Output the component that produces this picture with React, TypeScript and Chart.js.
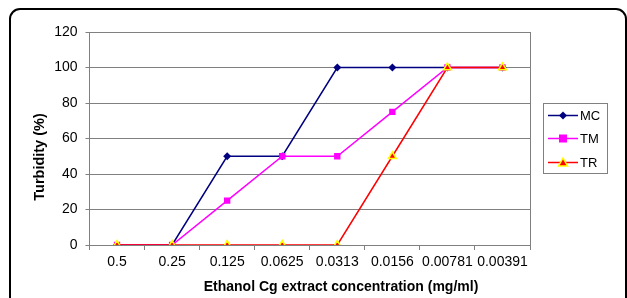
import React, { useEffect, useRef } from "react";
import { Chart, registerables } from "chart.js";

Chart.register(...registerables);

const categories = ["0.5", "0.25", "0.125", "0.0625", "0.0313", "0.0156", "0.00781", "0.00391"];
const seriesNames = ["MC", "TM", "TR"];
const mcValues = [0, 0, 50, 50, 100, 100, 100, 100];
const tmValues = [0, 0, 25, 50, 50, 75, 100, 100];
const trValues = [0, 0, 0, 0, 0, 50, 100, 100];
const yTicks = [0, 20, 40, 60, 80, 100, 120];
const xTitle = "Ethanol Cg extract concentration (mg/ml)";
const yTitle = "Turbidity (%)";

const FONT = "Arial, 'Liberation Sans', sans-serif";

function drawMarker(ctx: CanvasRenderingContext2D, kind: string, x: number, y: number) {
  ctx.save();
  if (kind === "MC") {
    ctx.fillStyle = "#000080";
    ctx.beginPath();
    ctx.moveTo(x, y - 4);
    ctx.lineTo(x + 4, y);
    ctx.lineTo(x, y + 4);
    ctx.lineTo(x - 4, y);
    ctx.closePath();
    ctx.fill();
  } else if (kind === "TM") {
    ctx.fillStyle = "#FF00FF";
    ctx.fillRect(x - 4, y - 4, 8, 8);
  } else {
    ctx.fillStyle = "#FF0000";
    ctx.strokeStyle = "#FFFF00";
    ctx.lineWidth = 1.5;
    ctx.beginPath();
    ctx.moveTo(x, y - 4.5);
    ctx.lineTo(x + 4.5, y + 3.5);
    ctx.lineTo(x - 4.5, y + 3.5);
    ctx.closePath();
    ctx.fill();
    ctx.stroke();
  }
  ctx.restore();
}

const decorPlugin = {
  id: "decor",
  beforeDraw(chart: any) {
    const ctx = chart.ctx as CanvasRenderingContext2D;
    ctx.save();
    ctx.fillStyle = "#ffffff";
    ctx.fillRect(0, 0, chart.width, chart.height);
    ctx.strokeStyle = "#000000";
    ctx.lineWidth = 2;
    ctx.beginPath();
    (ctx as any).roundRect(10, 9, 616, 330, 10);
    ctx.stroke();
    ctx.restore();
  },
  afterDraw(chart: any) {
    const ctx = chart.ctx as CanvasRenderingContext2D;
    const a = chart.chartArea;
    ctx.save();
    // plot area right border
    ctx.strokeStyle = "#808080";
    ctx.lineWidth = 1;
    ctx.beginPath();
    ctx.moveTo(Math.round(a.right) + 0.5, a.top);
    ctx.lineTo(Math.round(a.right) + 0.5, a.bottom);
    ctx.stroke();

    // axis titles
    ctx.fillStyle = "#000000";
    ctx.textAlign = "center";
    ctx.textBaseline = "middle";
    ctx.font = `bold 14px ${FONT}`;
    ctx.fillText(xTitle, 341, 287);
    ctx.save();
    ctx.translate(40, 157);
    ctx.rotate(-Math.PI / 2);
    ctx.font = `bold 14.5px ${FONT}`;
    ctx.fillText(yTitle, 0, 0);
    ctx.restore();

    // legend
    const lx = 543, ly = 103, lw = 64, lh = 70;
    ctx.fillStyle = "#ffffff";
    ctx.fillRect(lx, ly, lw, lh);
    ctx.strokeStyle = "#808080";
    ctx.lineWidth = 1;
    ctx.strokeRect(lx + 0.5, ly + 0.5, lw, lh);
    const colors = ["#000080", "#FF00FF", "#FF0000"];
    const rows = [115.5, 138.5, 162.5];
    seriesNames.forEach((name, i) => {
      const y = rows[i];
      ctx.strokeStyle = colors[i];
      ctx.lineWidth = 1.5;
      ctx.beginPath();
      ctx.moveTo(548, y);
      ctx.lineTo(578, y);
      ctx.stroke();
      drawMarker(ctx, name, 563, y);
      ctx.fillStyle = "#000000";
      ctx.font = `13px ${FONT}`;
      ctx.textAlign = "left";
      ctx.textBaseline = "middle";
      ctx.fillText(name, 580, y + 0.5);
    });
    ctx.restore();
  },
};

export default function App() {
  const ref = useRef<HTMLCanvasElement | null>(null);

  useEffect(() => {
    if (!ref.current) return;
    const chart = new Chart(ref.current, {
      type: "line",
      data: {
        labels: categories,
        datasets: [
          {
            label: seriesNames[0],
            data: mcValues,
            borderColor: "#000080",
            backgroundColor: "#000080",
            borderWidth: 1.5,
            pointStyle: "rectRot",
            pointRadius: 4,
            pointBorderWidth: 0,
            pointBackgroundColor: "#000080",
            order: 3,
          },
          {
            label: seriesNames[1],
            data: tmValues,
            borderColor: "#FF00FF",
            backgroundColor: "#FF00FF",
            borderWidth: 1.5,
            pointStyle: "rect",
            pointRadius: 4.5,
            pointBorderWidth: 0,
            pointBackgroundColor: "#FF00FF",
            order: 2,
          },
          {
            label: seriesNames[2],
            data: trValues,
            borderColor: "#FF0000",
            backgroundColor: "#FF0000",
            borderWidth: 1.5,
            pointStyle: "triangle",
            pointRadius: 4.5,
            pointBorderWidth: 1.5,
            pointBorderColor: "#FFFF00",
            pointBackgroundColor: "#FF0000",
            order: 1,
          },
        ],
      },
      options: {
        animation: false,
        responsive: false,
        maintainAspectRatio: false,
        layout: { padding: { left: 0, right: 97, top: 32, bottom: 0 } },
        plugins: {
          legend: { display: false },
          tooltip: { enabled: false },
          title: { display: false },
        },
        elements: { line: { tension: 0 } },
        scales: {
          x: {
            type: "category",
            offset: true,
            afterFit: (s: any) => {
              s.height = 53;
            },
            grid: {
              offset: true,
              drawOnChartArea: false,
              drawTicks: true,
              tickLength: 5,
              color: "#808080",
            },
            border: { display: true, color: "#808080", width: 1 },
            ticks: {
              color: "#000000",
              font: { family: FONT, size: 14 },
              padding: 4,
              maxRotation: 0,
              autoSkip: false,
            },
          },
          y: {
            min: 0,
            max: 120,
            afterFit: (s: any) => {
              s.width = 89.5;
            },
            afterBuildTicks: (s: any) => {
              s.ticks = yTicks.map((v) => ({ value: v }));
            },
            grid: {
              color: "#808080",
              tickLength: 4,
              lineWidth: 1,
            },
            border: { display: true, color: "#808080", width: 1 },
            ticks: {
              color: "#000000",
              font: { family: FONT, size: 14 },
              padding: 8,
            },
          },
        },
      },
      plugins: [decorPlugin],
    });
    return () => chart.destroy();
  }, []);

  return (
    <div style={{ position: "fixed", left: 0, top: 0, width: 627, height: 298, background: "#fff" }}>
      <canvas ref={ref} width={627} height={298} style={{ display: "block", width: 627, height: 298 }} />
    </div>
  );
}
